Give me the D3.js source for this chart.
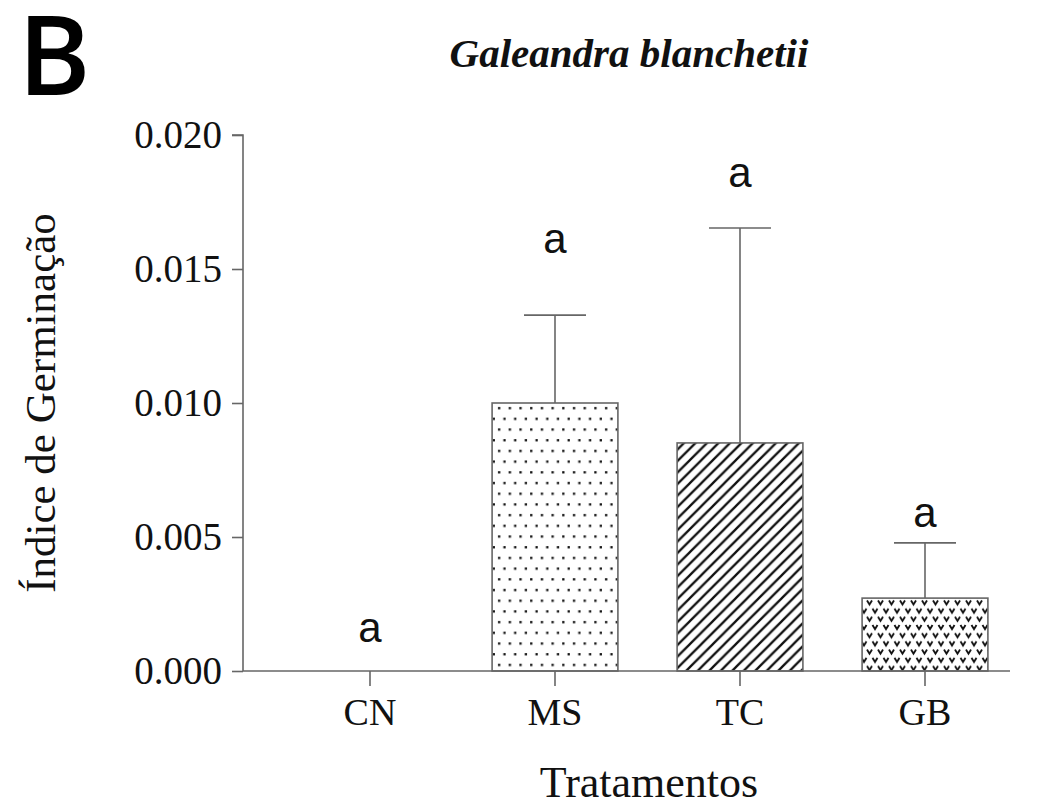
<!DOCTYPE html>
<html><head><meta charset="utf-8">
<script src="https://cdn.jsdelivr.net/npm/d3@7"></script>
<style>body{margin:0;background:#fff}</style>
</head><body>
<svg id="c" width="1047" height="808"></svg>
<script>
const categories = ["CN","MS","TC","GB"];
const means = [0, 0.0100, 0.00851, 0.00272];
const errors = [0, 0.00328, 0.00802, 0.00206];
const letters = ["a","a","a","a"];
const letterLevels = [0.00108, 0.0156, 0.01806, 0.00537];
const yTicks = [0, 0.005, 0.010, 0.015, 0.020];
const patterns = [null, "dots", "hatch", "vees"];

const svg = d3.select("#c");
const defs = svg.append("defs");
// dots
const pd = defs.append("pattern").attr("id","dots").attr("patternUnits","userSpaceOnUse").attr("width",10.7).attr("height",21.4).attr("x",494).attr("y",403);
pd.append("rect").attr("width",10.7).attr("height",21.4).attr("fill","#fff");
pd.append("rect").attr("x",4).attr("y",4).attr("width",2.3).attr("height",2.3).attr("fill","#111");
pd.append("rect").attr("x",9.35).attr("y",14.7).attr("width",2.3).attr("height",2.3).attr("fill","#111");
pd.append("rect").attr("x",-1.35).attr("y",14.7).attr("width",2.3).attr("height",2.3).attr("fill","#111");
// hatch
const hs = 11.5;
const ph = defs.append("pattern").attr("id","hatch").attr("patternUnits","userSpaceOnUse").attr("width",hs).attr("height",hs);
ph.append("rect").attr("width",hs).attr("height",hs).attr("fill","#fff");
ph.append("path").attr("d",`M-3,3 L3,-3 M0,${hs} L${hs},0 M${hs-3},${hs+3} L${hs+3},${hs-3}`).attr("stroke","#111").attr("stroke-width",2.3);
// vees
const pv = defs.append("pattern").attr("id","vees").attr("patternUnits","userSpaceOnUse").attr("width",11).attr("height",16.4).attr("x",866).attr("y",598);
pv.append("rect").attr("width",11).attr("height",16.4).attr("fill","#fff");
pv.append("path").attr("d","M1,2.5 L3.5,6.5 L6,2.5").attr("stroke","#111").attr("stroke-width",1.9).attr("fill","none");
pv.append("path").attr("d","M6.5,10.7 L9,14.7 L11.5,10.7 M-4.5,10.7 L-2,14.7 L0.5,10.7").attr("stroke","#111").attr("stroke-width",1.9).attr("fill","none");

const y = d3.scaleLinear().domain([0,0.020]).range([671,135]);
const x = d3.scaleBand().domain(categories).range([277.5,1017.5]).paddingInner(0.32).paddingOuter(0.16);

// bars
categories.forEach((c,i)=>{
  if (means[i] <= 0) return;
  const x0 = x(c), w = x.bandwidth();
  svg.append("rect").attr("x",x0).attr("y",y(means[i])).attr("width",w).attr("height",y(0)-y(means[i]))
    .attr("fill",`url(#${patterns[i]})`).attr("stroke","#666").attr("stroke-width",1.6);
  const cx = x0 + w/2;
  svg.append("line").attr("x1",cx).attr("x2",cx).attr("y1",y(means[i])).attr("y2",y(means[i]+errors[i])).attr("stroke","#666").attr("stroke-width",1.6);
  svg.append("line").attr("x1",cx-31).attr("x2",cx+31).attr("y1",y(means[i]+errors[i])).attr("y2",y(means[i]+errors[i])).attr("stroke","#666").attr("stroke-width",1.6);
});
// letters
categories.forEach((c,i)=>{
  svg.append("text").attr("x",x(c)+x.bandwidth()/2).attr("y", y(letterLevels[i]))
    .attr("text-anchor","middle").attr("font-family","Liberation Sans, Arial, sans-serif").attr("font-size",42).attr("fill","#111").text(letters[i]);
});

// y axis
const ya = svg.append("g").attr("transform","translate(243,0)").call(d3.axisLeft(y).tickValues(yTicks).tickFormat(d3.format(".3f")).tickSize(11).tickPadding(10));
ya.select(".domain").attr("stroke","#666").attr("stroke-width",1.6).attr("d","M-11,135H0V671");
ya.selectAll(".tick line").attr("stroke","#666").attr("stroke-width",1.6);
ya.selectAll(".tick text").attr("font-family","Liberation Serif, Times New Roman, serif").attr("font-size",39).attr("fill","#111").attr("dy","0.33em");

// x axis
const xa = svg.append("g").attr("transform","translate(0,671)").call(d3.axisBottom(x).tickSize(15).tickPadding(12));
xa.select(".domain").attr("stroke","#666").attr("stroke-width",1.6).attr("d","M243,0H1010");
xa.selectAll(".tick line").attr("stroke","#666").attr("stroke-width",1.6);
xa.selectAll(".tick text").attr("font-family","Liberation Serif, Times New Roman, serif").attr("font-size",38).attr("fill","#111").attr("dy","0.71em");

// labels
svg.append("text").attr("x",649).attr("y",797).attr("text-anchor","middle").attr("font-family","Liberation Serif, serif").attr("font-size",44).attr("fill","#111").text("Tratamentos");
svg.append("text").attr("transform","translate(55,403) rotate(-90)").attr("text-anchor","middle").attr("font-family","Liberation Serif, serif").attr("font-size",43).attr("fill","#111").text("Índice de Germinação");
svg.append("text").attr("x",629).attr("y",67).attr("text-anchor","middle").attr("font-family","Liberation Serif, serif").attr("font-weight","bold").attr("font-style","italic").attr("font-size",41).attr("fill","#111").text("Galeandra blanchetii");
svg.append("text").attr("x",18).attr("y",95).attr("font-family","Open Sans, sans-serif").attr("font-weight","600").attr("font-size",110).text("B");
</script>
</body></html>
